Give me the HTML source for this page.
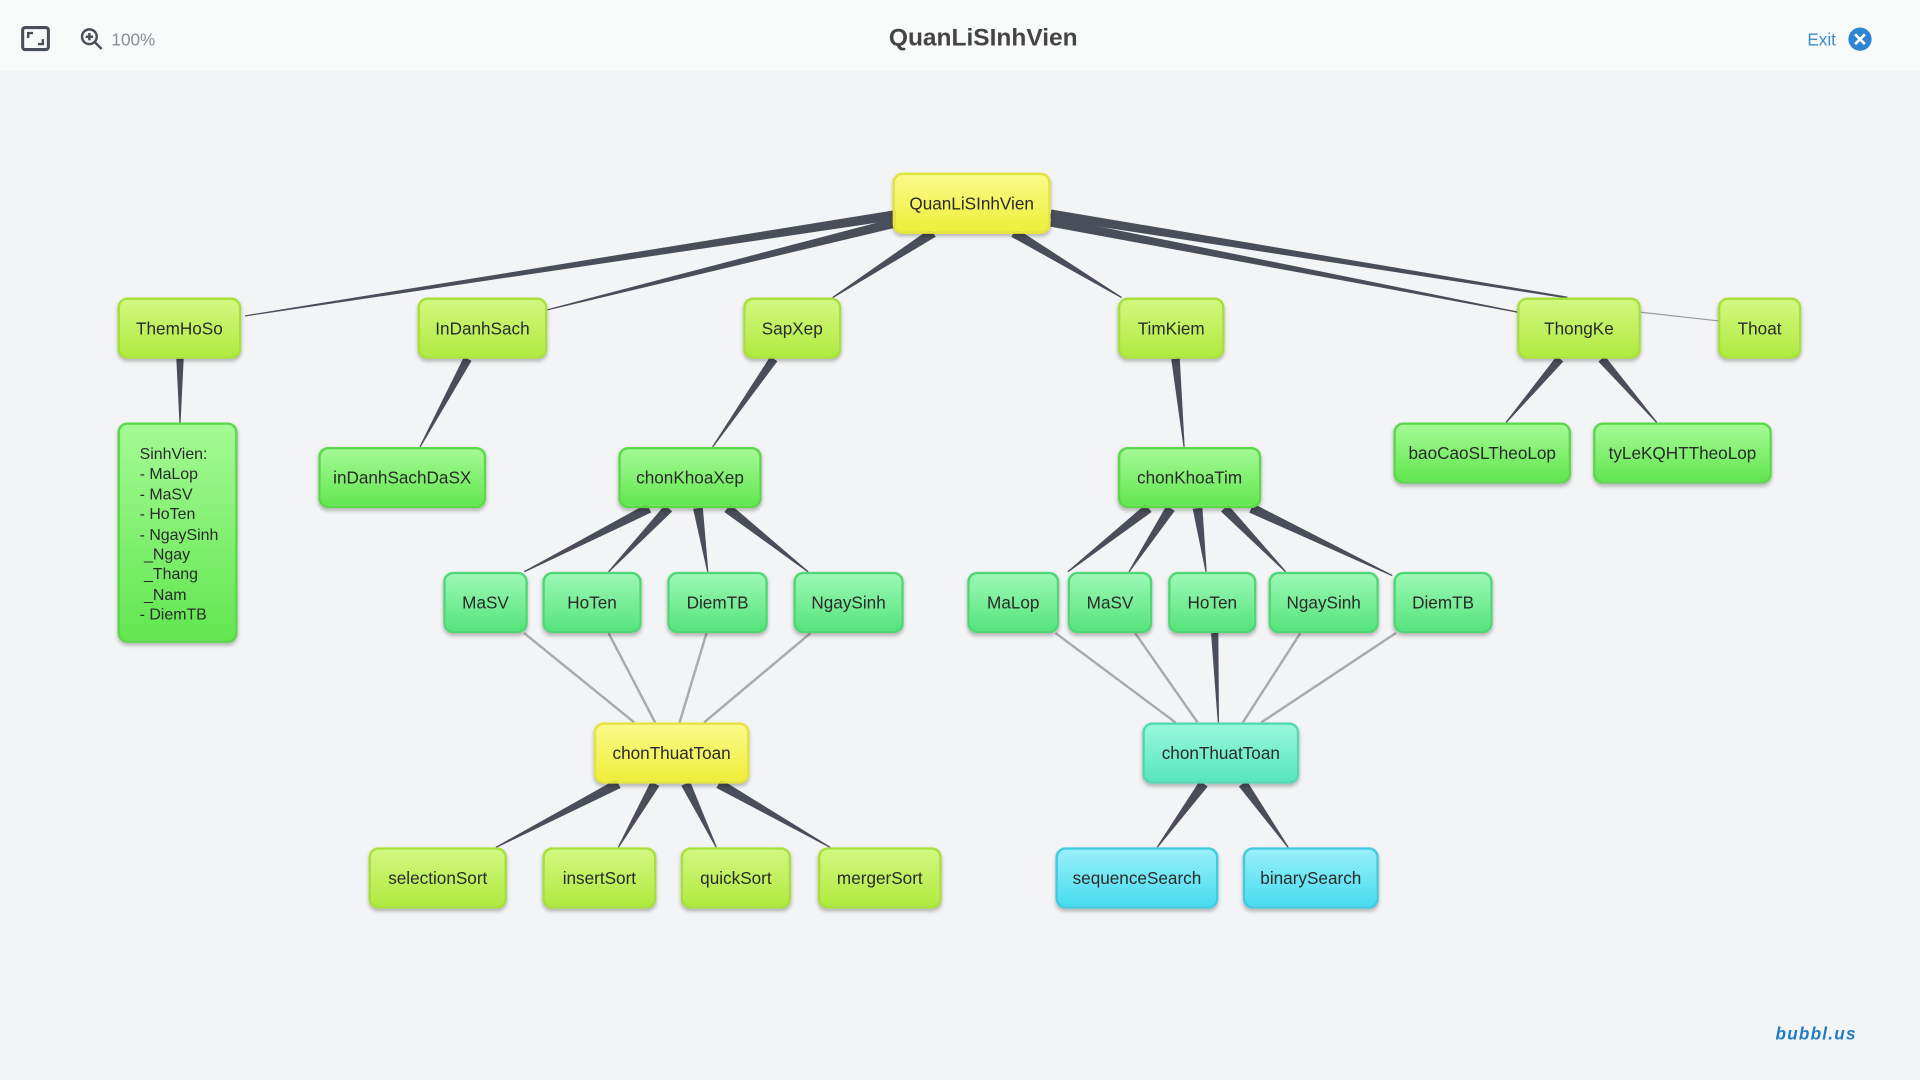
<!DOCTYPE html>
<html><head><meta charset="utf-8"><style>
html,body{margin:0;padding:0;width:1920px;height:1080px;overflow:hidden;background:#f3f4f5;font-family:"Liberation Sans",sans-serif}
#s{position:absolute;left:0;top:0;width:1568px;height:882px;transform:scale(1.22449);transform-origin:0 0;background:#f3f4f5}
#hd{position:absolute;left:0;top:0;width:1568px;height:58px;background:#f8f9f9}
.n{position:absolute;box-sizing:border-box;border-radius:8px;display:flex;align-items:center;justify-content:center;font-size:14px;color:#2a2a2a;box-shadow:0 2px 3px rgba(0,0,0,.25)}
.y{background:linear-gradient(#fafa8a,#eeee3a);border:2px solid #e4e43a}
.l{background:linear-gradient(#d2f880,#b0ea40);border:2px solid #a8e03a}
.g{background:linear-gradient(#a4fa94,#62e650);border:2px solid #5ad84a}
.m{background:linear-gradient(#9cf8b4,#56e47c);border:2px solid #4ed874}
.t{background:linear-gradient(#98f8dc,#58e6bc);border:2px solid #50d8b0}
.c{background:linear-gradient(#98f0fa,#48dcee);border:2px solid #40cce0}
</style></head><body><div id="s">
<div id="hd">
<svg style="position:absolute;left:17px;top:21px" width="24" height="22"><rect x="1.5" y="1.5" width="21" height="18" rx="2" fill="none" stroke="#4a4e58" stroke-width="2.5"/><path d="M6 10V6h4M18 11v4h-4" fill="none" stroke="#4a4e58" stroke-width="2"/></svg>
<svg style="position:absolute;left:65px;top:22px" width="20" height="20"><circle cx="8" cy="8" r="6" fill="none" stroke="#4a4e58" stroke-width="2"/><path d="M12.5 12.5L18 18M5 8h6M8 5v6" stroke="#4a4e58" stroke-width="2"/></svg>
<div style="position:absolute;left:91px;top:24px;font-size:14px;color:#8a8e96">100%</div>
<div style="position:absolute;left:0;width:1606px;top:20px;text-align:center;font-size:20px;font-weight:bold;color:#444">QuanLiSInhVien</div>
<div style="position:absolute;left:1476px;top:24px;font-size:14px;color:#3a8fd0">Exit</div>
<svg style="position:absolute;left:1509px;top:22px" width="20" height="20"><circle cx="10" cy="10" r="9.5" fill="#2f86d0"/><path d="M6 6l8 8M14 6l-8 8" stroke="#fff" stroke-width="2.2"/></svg>
</div>
<svg id="e" style="position:absolute;left:0;top:0" width="1568" height="882"></svg>
<div class="n y" style="left:729px;top:141px;width:129px;height:50px">QuanLiSInhVien</div>
<div class="n l" style="left:96px;top:243px;width:101px;height:50px">ThemHoSo</div>
<div class="n l" style="left:341px;top:243px;width:106px;height:50px">InDanhSach</div>
<div class="n l" style="left:607px;top:243px;width:80px;height:50px">SapXep</div>
<div class="n l" style="left:913px;top:243px;width:87px;height:50px">TimKiem</div>
<div class="n l" style="left:1239px;top:243px;width:101px;height:50px">ThongKe</div>
<div class="n l" style="left:1403px;top:243px;width:68px;height:50px">Thoat</div>
<div class="n g" style="left:96px;top:345px;width:98px;height:180px;justify-content:flex-start;align-items:flex-start;padding:16px 0 0 16px;line-height:16.4px;font-size:13px">SinhVien:<br>- MaLop<br>- MaSV<br>- HoTen<br>- NgaySinh<br>&nbsp;_Ngay<br>&nbsp;_Thang<br>&nbsp;_Nam<br>- DiemTB</div>
<div class="n g" style="left:260px;top:365px;width:137px;height:50px">inDanhSachDaSX</div>
<div class="n g" style="left:505px;top:365px;width:117px;height:50px">chonKhoaXep</div>
<div class="n g" style="left:913px;top:365px;width:117px;height:50px">chonKhoaTim</div>
<div class="n g" style="left:1138px;top:345px;width:145px;height:50px">baoCaoSLTheoLop</div>
<div class="n g" style="left:1301px;top:345px;width:146px;height:50px">tyLeKQHTTheoLop</div>
<div class="n m" style="left:362px;top:467px;width:69px;height:50px">MaSV</div>
<div class="n m" style="left:443px;top:467px;width:81px;height:50px">HoTen</div>
<div class="n m" style="left:545px;top:467px;width:82px;height:50px">DiemTB</div>
<div class="n m" style="left:648px;top:467px;width:90px;height:50px">NgaySinh</div>
<div class="n m" style="left:790px;top:467px;width:75px;height:50px">MaLop</div>
<div class="n m" style="left:872px;top:467px;width:69px;height:50px">MaSV</div>
<div class="n m" style="left:954px;top:467px;width:72px;height:50px">HoTen</div>
<div class="n m" style="left:1036px;top:467px;width:90px;height:50px">NgaySinh</div>
<div class="n m" style="left:1138px;top:467px;width:81px;height:50px">DiemTB</div>
<div class="n y" style="left:485px;top:590px;width:127px;height:50px">chonThuatToan</div>
<div class="n t" style="left:933px;top:590px;width:128px;height:50px">chonThuatToan</div>
<div class="n l" style="left:301px;top:692px;width:113px;height:50px">selectionSort</div>
<div class="n l" style="left:443px;top:692px;width:93px;height:50px">insertSort</div>
<div class="n l" style="left:556px;top:692px;width:90px;height:50px">quickSort</div>
<div class="n l" style="left:668px;top:692px;width:101px;height:50px">mergerSort</div>
<div class="n c" style="left:862px;top:692px;width:133px;height:50px">sequenceSearch</div>
<div class="n c" style="left:1015px;top:692px;width:111px;height:50px">binarySearch</div>
<div style="position:absolute;left:1450px;top:836px;font-size:14px;font-weight:bold;font-style:italic;color:#1f7cc4;letter-spacing:1px">bubbl.us</div>
</div>
<script>
var s=document.getElementById('e'),h='';
function w(a,b,c,d,w1,w2,col){var dx=c-a,dy=d-b,L=Math.hypot(dx,dy),nx=-dy/L,ny=dx/L;
h+='<polygon fill="'+(col||'#4a4e5a')+'" points="'+[a+nx*w1/2,b+ny*w1/2,c+nx*w2/2,d+ny*w2/2,c-nx*w2/2,d-ny*w2/2,a-nx*w1/2,b-ny*w1/2].join(',')+'"/>';}
function ln(a,b,c,d){h+='<line x1="'+a+'" y1="'+b+'" x2="'+c+'" y2="'+d+'" stroke="#a8aaae" stroke-width="2"/>';}
w(735,175,200,258,8,1);w(735,181,447,253,8,1);w(762,190,680,243,8,1);w(828,190,916,243,8,1);
w(858,175,1280,243,8,1.5);w(858,181,1240,255,8,1);w(1340,255,1403,262,1,1,'#9a9ca2');
w(147,293,147,345,6,1);w(382,293,343,365,7,1);w(632,293,582,365,7,1);w(960,293,967,365,7,1);
w(1274,293,1230,345,7,1);w(1308,293,1353,345,7,1);
w(530,415,428,467,8,1);w(546,415,497,467,8,1);w(570,415,578,467,8,1);w(594,415,660,467,8,1);
w(938,415,872,467,8,1);w(956,415,922,467,8,1);w(978,415,985,467,8,1);w(1000,415,1050,467,8,1);w(1022,415,1137,470,8,1);
ln(428,517,518,590);ln(497,517,535,590);ln(577,517,555,590);ln(662,517,575,590);
ln(862,517,960,590);ln(927,517,978,590);w(992,517,995,590,6,1);ln(1062,517,1015,590);ln(1140,517,1030,590);
w(505,640,405,692,8,1);w(535,640,505,692,8,1);w(560,640,585,692,8,1);w(587,640,678,692,8,1);
w(983,640,945,692,8,1);w(1015,640,1052,692,8,1);
s.innerHTML=h;
</script>
</body></html>
